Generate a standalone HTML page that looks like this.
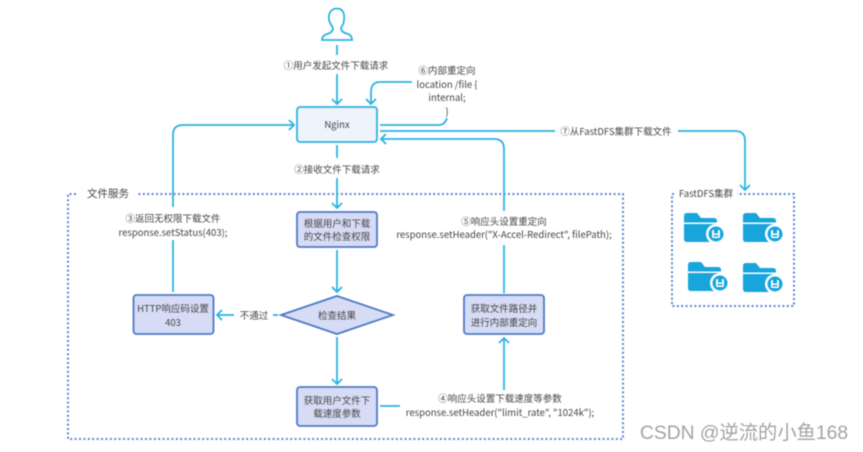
<!DOCTYPE html>
<html>
<head>
<meta charset="utf-8">
<style>
html,body{margin:0;padding:0;background:#fff;width:863px;height:452px;overflow:hidden}
svg{display:block;filter:blur(.4px)}
text{font-family:"Noto Sans CJK SC","Liberation Sans",sans-serif;font-size:9.500px;fill:#454545;text-anchor:middle}
.l{fill:none;stroke:#2cb3e2;stroke-width:1.800}
.d{fill:none;stroke:#5b87cf;stroke-width:2;stroke-dasharray:2 2.400}
.b{fill:#d6dcf5;stroke:#4f79c6;stroke-width:1.800}
</style>
</head>
<body>
<svg width="863" height="452" viewBox="0 0 863 452" xmlns="http://www.w3.org/2000/svg">
<defs>
<g id="f">
<path d="M0 3Q0 0 3 0H13L17 5H30Q33 5 33 8V9.500H0Z" fill="#18a5dc"/>
<path d="M0 11H33V29H3Q0 29 0 26Z" fill="#18a5dc"/>
<circle cx="32" cy="21" r="10" fill="#fff"/>
<circle cx="32" cy="21" r="7.500" fill="#18a5dc"/>
<rect x="28" y="17" width="8" height="8" rx="1.200" fill="#fff"/>
<rect x="30" y="17" width="4" height="3.500" fill="#18a5dc"/>
<rect x="29.500" y="22" width="5" height="1.500" fill="#18a5dc"/>
</g>
</defs>

<!-- person -->
<path class="l" d="M329 20C328 12 332 8.500 337 8.500C342 8.500 345 12 344 20C344 24 342 26 341 28C341 31 344 33 348 34C351 35 352 37 352 40H322C322 37 324 35 327 34C331 33 333 31 333 28C332 26 330 24 329 20Z"/>

<!-- frames -->
<path class="d" d="M76 194H68V439H623V194H138"/>
<path class="d" d="M674 194H672V306H794V194H737"/>

<!-- connectors -->
<path class="l" d="M337 45V55M337 74V104M332 99L337 104L342 99"/>
<path class="l" d="M412 82H380Q371 82 371 92V104M366 99L371 104L376 99"/>
<path class="l" d="M380 125H438Q445 125 447 118"/>
<path class="l" d="M380 131H555M678 131H735Q745 131 745 141V190M740 185L745 190L750 185"/>
<path class="l" d="M504 211V149Q504 139 494 139H381M386 134L381 139L386 144"/>
<path class="l" d="M504 245V293"/>
<path class="l" d="M337 145V158M337 178V208M332 203L337 208L342 203"/>
<path class="l" d="M337 250V292M332 287L337 292L342 287"/>
<path class="l" d="M337 337V384M332 379L337 384L342 379"/>
<path class="l" d="M380 406H400"/>
<path class="l" d="M504 390V338M499 343L504 338L509 343"/>
<path class="l" d="M234 315H217M222 310L217 315L222 320M273 315H278"/>
<path class="l" d="M173 292V240M173 207V135Q173 125 183 125H294M289 120L294 125L289 130"/>

<!-- nodes -->
<rect x="297" y="107" width="80" height="35" rx="3" fill="#eef3fc" stroke="#2cb3e2" stroke-width="1.800"/>
<rect class="b" x="297" y="212" width="80" height="35" rx="3"/>
<path class="b" d="M281 315L337 296L393 315L337 334Z"/>
<rect class="b" x="133.500" y="295" width="80" height="39" rx="3"/>
<rect class="b" x="297" y="387" width="80" height="39" rx="3"/>
<rect class="b" x="464" y="295" width="80" height="39" rx="3"/>

<!-- folders -->
<use href="#f" x="684" y="213"/>
<use href="#f" x="743" y="213"/>
<use href="#f" x="688" y="262"/>
<use href="#f" x="743" y="263"/>

<!-- labels -->
<text x="336" y="69">①用户发起文件下载请求</text>
<text x="447" y="74">⑥内部重定向</text>
<text x="447" y="88">location /file {</text>
<text x="447" y="101">internal;</text>
<text x="447" y="115">}</text>
<text x="337" y="128">Nginx</text>
<text x="337" y="173">②接收文件下载请求</text>
<text x="616" y="135">⑦从FastDFS集群下载文件</text>
<text x="108" y="197" style="font-size:10.500px">文件服务</text>
<text x="706" y="197">FastDFS集群</text>
<text x="173" y="222">③返回无权限下载文件</text>
<text x="173" y="236">response.setStatus(403);</text>
<text x="337" y="227">根据用户和下载</text>
<text x="337" y="240">的文件检查权限</text>
<text x="504" y="225">⑤响应头设置重定向</text>
<text x="504" y="238">response.setHeader("X-Accel-Redirect", filePath);</text>
<text x="173" y="312">HTTP响应码设置</text>
<text x="173" y="326">403</text>
<text x="254" y="319">不通过</text>
<text x="337" y="319">检查结果</text>
<text x="504" y="312">获取文件路径并</text>
<text x="504" y="326">进行内部重定向</text>
<text x="337" y="404">获取用户文件下</text>
<text x="337" y="417">载速度参数</text>
<text x="500" y="402">④响应头设置下载速度等参数</text>
<text x="500" y="416">response.setHeader("limit_rate", "1024k");</text>

<!-- watermark -->
<text x="744" y="439" style="font-family:'Liberation Sans','Noto Sans CJK SC',sans-serif;font-size:19.300px;fill:#a3a3a3">CSDN @逆流的小鱼168</text>
</svg>
</body>
</html>
